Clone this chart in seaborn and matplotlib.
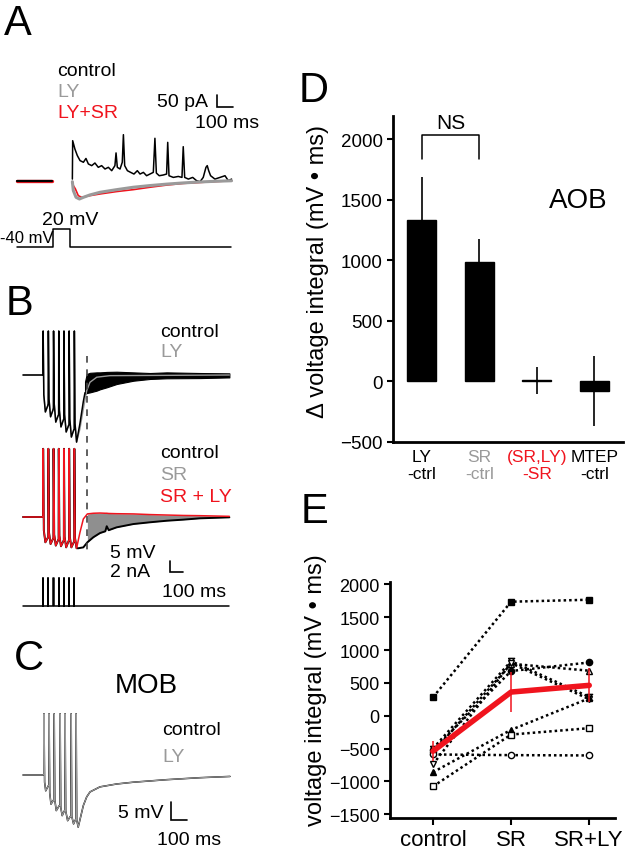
import matplotlib
matplotlib.use("Agg")
import seaborn as sns
import matplotlib.pyplot as plt
import pandas as pd

W, H = 629, 853
RED = "#f0141e"
GREY = "#9a9a9a"

# ---------------- panel A: voltage-clamp currents (ms, pA) ----------------
a_pre_t = [0, 220]
a_pre = [0, 0]
a_ctrl_t = [346, 348, 362, 377, 394, 415, 431, 446, 467, 487,
            508, 529, 550, 571, 592, 612, 619, 627, 644, 658,
            665, 673, 690, 710, 731, 752, 769, 790, 810, 831,
            852, 862, 871, 889, 914, 935, 942, 950, 977, 1008,
            1031, 1039, 1048, 1071, 1098, 1123, 1144, 1164, 1181, 1189,
            1198, 1210, 1237, 1269, 1300, 1321, 1341]
a_ctrl = [8, 168, 133, 106, 85, 78, 94, 71, 64, 75,
          57, 64, 50, 57, 43, 64, 117, 57, 50, 78,
          193, 64, 43, 36, 29, 43, 29, 36, 22, 29,
          36, 178, 33, 22, 25, 29, 161, 22, 15, 19,
          15, 143, 15, 8, 15, 1, -3, 15, 57, 64,
          43, 22, 8, 15, 22, 1, 8]
a_ly_t = [346, 352, 369, 390, 415, 456, 519, 623, 727, 831, 935, 1039, 1144, 1248, 1341]
a_ly = [-3, -40, -68, -75, -68, -58, -47, -36, -26, -19, -13, -8, -4, -1, 1]
a_lysr_t = [346, 352, 365, 383, 404, 456, 519, 623, 727, 831, 935, 1039, 1144, 1248, 1341]
a_lysr = [-3, -19, -33, -61, -68, -61, -54, -44, -36, -26, -17, -10, -6, -2, 1]
a_cmd_t = [0, 225, 225, 330, 330, 1340]
a_cmd = [-40, -40, 20, 20, -40, -40]

# ---------------- panel B: current-clamp voltage (ms, mV) ----------------
b1_spikes_t = [0, 154, 155, 160, 172, 190, 194, 195, 200, 212, 230, 234, 235, 240, 252, 270,
               274, 275, 280, 292, 310, 314, 315, 320, 332, 350, 354, 355, 360, 372, 390,
               394, 395, 400, 412]
b1_spikes = [0, 0, 20, -9, -16.8, -14, -13, 20, -11, -19, -16, -15, 20, -13, -21.4, -18.5,
             -18, 20, -16, -23.6, -20.5, -20, 20, -18, -25.9, -23, -22.5, 20, -20, -28.2, -25,
             -24.5, 20, -22, -30.5]
b1_ly_tail_t = [438, 464, 490, 515, 567, 669, 1587]
b1_ly_tail = [-24.5, -15.5, -7.1, -3.3, -1.0, -0.3, 0]
b1_ctrl_tail_t = [438, 464, 477]
b1_ctrl_tail = [-22, -12, -8]
b1_band_t = [477, 490, 515, 567, 592, 644, 720, 849, 977, 1105, 1362, 1587]
b1_band_hi = [-3, 0.45, 1.0, 1.2, 1.2, 1.4, 1.5, 1.2, 0.9, 1.2, 0.9, 0.75]
b1_band_lo = [-8.6, -8.2, -7.9, -7.1, -6.5, -5.6, -4.1, -2.6, -1.8, -1.5, -1.4, -1.1]

b2_spikes_t = [0, 154, 155, 160, 172, 190, 194, 195, 200, 212, 230, 234, 235, 240, 252, 270,
               274, 275, 280, 292, 310, 314, 315, 320, 332, 350, 354, 355, 360, 372, 390,
               394, 395, 400, 412]
b2_spikes = [0, 0, 31, -6, -11.5, -9.5, -9, 31, -7, -12.3, -10, -9.5, 31, -8, -13, -10.5,
             -10, 31, -8.5, -13.3, -11, -10.5, 31, -9, -13.8, -11, -10.5, 31, -9, -13.8, -11.5,
             -11, 31, -9.5, -14.2]
b2_ctrl_lead_t = [412, 426, 464]
b2_ctrl_lead = [-14.2, -14.2, -13.8]
b2_srly_lead_t = [412, 438, 464]
b2_srly_lead = [-14.2, -7, -0.9]
b2_tail_t = [495, 541, 592, 633, 644, 659, 720, 849, 977, 1105, 1233, 1362, 1587]
b2_ctrl_tail = [-11.5, -9.2, -7.3, -6.5, -4.2, -6.0, -4.7, -3.2, -2.4, -1.7, -1.2, -0.6, -0.15]
b2_srly_tail = [1.4, 1.7, 1.8, 1.7, 1.7, 1.6, 1.5, 1.4, 1.1, 0.9, 0.7, 0.6, 0.3]

b_pulse_t = [154, 194, 234, 274, 314, 354, 394]
b_pulse_amp = 5  # nA
b_pulse_end = 1587

# ---------------- panel C: MOB voltage (ms, mV) ----------------
c_t = [0, 130, 131, 135, 142, 158, 162, 163, 167, 175, 190, 194, 195, 199, 208, 227, 231, 232,
       236, 245, 258, 262, 263, 267, 279, 296, 300, 301, 305, 316, 327, 331, 332, 336, 345,
       377, 398, 419, 481, 585, 690, 898, 1106, 1294]
c_v = [0, 0, 17, -2, -4.4, -3, -3, 17, -5, -8.1, -7, -7, 17, -7, -9.9, -8.5, -8.5, 17,
       -9, -11.3, -10, -10, 17, -10, -12.7, -11.5, -11.5, 17, -11.5, -13.6, -12.5, -12.5, 17, -12.5, -14.5,
       -8.5, -6.1, -4.7, -3.3, -2.5, -2.0, -1.3, -0.75, -0.4]

# ---------------- panel D: bar chart ----------------
d_labels = ["LY\n-ctrl", "SR\n-ctrl", "(SR,LY)\n-SR", "MTEP\n-ctrl"]
d_label_colors = ["black", GREY, RED, "black"]
d_mean = [1330, 983, 10, -80]
d_err = [356, 191, 112, 290]

# ---------------- panel E: paired cells ----------------
e_conditions = ["control", "SR", "SR+LY"]
e_ctrl = [280, -520, -560, -500, -740, -860, -1077, -590]
e_sr = [1735, 680, 790, 830, 800, -215, -287, -600]
e_srly = [1765, 810, 685, 285, 250, 265, -190, -605]
e_markers = ["s", "o", "^", "hourglass", "v", "^", "s", "o"]
e_filled = [True, True, False, False, False, True, False, False]
e_mean = [-540, 360, 462]
e_sem = [150, 308, 260]

sns.set_style("ticks")
plt.rcParams["font.family"] = ["Liberation Sans", "DejaVu Sans"]
plt.rcParams.update({"text.color": "black", "axes.labelcolor": "black",
                     "xtick.color": "black", "ytick.color": "black",
                     "axes.edgecolor": "black"})
fig = plt.figure(figsize=(W / 100, H / 100), dpi=100)


def px_axes(x0, y0, x1, y1):
    return fig.add_axes([x0 / W, 1 - y1 / H, (x1 - x0) / W, (y1 - y0) / H])


def trace_axes(x0, y0, x1, y1, ox, oy, sx, sy):
    # ox, oy: pixel where data (0, 0) sits; sx, sy: data units per pixel
    ax = px_axes(x0, y0, x1, y1)
    ax.set_xlim((x0 - ox) * sx, (x1 - ox) * sx)
    ax.set_ylim((oy - y1) * sy, (oy - y0) * sy)
    ax.axis("off")
    ax.patch.set_alpha(0)
    return ax


def ftext(x, y, s, **kw):
    kw.setdefault("va", "baseline")
    fig.text(x / W, 1 - y / H, s, **kw)


def scalebar(ax, x, y, dx, dy):
    ax.plot([x, x, x + dx], [y + dy, y, y], color="black", lw=1.2, solid_joinstyle="miter")


LAB = 30
TXT = 14

# ---- A ----
axA = trace_axes(0, 85, 260, 215, 17, 182, 6.25, 4.167)
axA.plot(a_pre_t, a_pre, color=RED, lw=2.4)
axA.plot(a_pre_t, a_pre, color="black", lw=1.6)
axA.plot(a_ctrl_t, a_ctrl, color="black", lw=1.1)
axA.plot(a_lysr_t, a_lysr, color=RED, lw=1.2)
axA.plot(a_ly_t, a_ly, color=GREY, lw=2.2)
scalebar(axA, 1250, 308, 100, 50)
axAc = trace_axes(0, 222, 260, 255, 17, 236, 6.25, 3.333)
axAc.plot(a_cmd_t, a_cmd, color="black", lw=1.1)

ftext(4, 35, "A", fontsize=LAB)
ftext(57, 76, "control", fontsize=TXT)
ftext(57, 97, "LY", fontsize=TXT, color=GREY)
ftext(57, 118, "LY+SR", fontsize=TXT, color=RED)
ftext(157, 107, "50 pA", fontsize=TXT)
ftext(195, 128, "100 ms", fontsize=TXT)
ftext(42, 225, "20 mV", fontsize=TXT)
ftext(0, 243, "-40 mV", fontsize=12)

# ---- B ----
axB1 = trace_axes(0, 320, 260, 450, 23, 376, 7.69, 0.4545)
axB1.plot(b1_spikes_t + b1_ly_tail_t, b1_spikes + b1_ly_tail, color=GREY, lw=1.0)
axB1.plot(b1_spikes_t + b1_ctrl_tail_t, b1_spikes + b1_ctrl_tail, color="black", lw=1.1)
axB1.fill_between(b1_band_t, b1_band_lo, b1_band_hi, color="black", lw=0.8)

axB2 = trace_axes(0, 440, 260, 580, 23, 518, 7.69, 0.4545)
axB2.fill_between(b2_tail_t, b2_ctrl_tail, b2_srly_tail, color="#8f8f8f", lw=0)
axB2.plot(b2_spikes_t + b2_ctrl_lead_t + b2_tail_t,
          b2_spikes + b2_ctrl_lead + b2_ctrl_tail, color="black", lw=1.4)
axB2.plot(b2_spikes_t + b2_srly_lead_t + b2_tail_t,
          b2_spikes + b2_srly_lead + b2_srly_tail, color=RED, lw=1.1)
scalebar(axB2, 1130, -25, 100, 5)

axB3 = trace_axes(0, 575, 260, 612, 23, 607, 7.69, 0.1818)
stim_t, stim_v = [0], [0]
for t in b_pulse_t:
    stim_t += [t, t, t + 2, t + 2]
    stim_v += [0, b_pulse_amp, b_pulse_amp, 0]
stim_t.append(b_pulse_end)
stim_v.append(0)
axB3.plot(stim_t, stim_v, color="black", lw=1.1)

fig.add_artist(plt.Line2D([87.5 / W, 87.5 / W], [1 - 357 / H, 1 - 557 / H],
                          transform=fig.transFigure, color="#444444", lw=1.2,
                          ls=(0, (4, 4))))

ftext(6, 315, "B", fontsize=LAB)
ftext(160, 337, "control", fontsize=TXT)
ftext(160, 357, "LY", fontsize=TXT, color=GREY)
ftext(160, 458, "control", fontsize=TXT)
ftext(160, 480, "SR", fontsize=TXT, color=GREY)
ftext(160, 502, "SR + LY", fontsize=TXT, color=RED)
ftext(110, 558, "5 mV", fontsize=TXT)
ftext(110, 577, "2 nA", fontsize=TXT)
ftext(162, 597, "100 ms", fontsize=TXT)

# ---- C ----
axC = trace_axes(0, 700, 260, 835, 23, 776, 6.25, 0.278)
axC.plot(c_t, c_v, color="black", lw=1.1)
axC.plot(c_t, c_v, color=GREY, lw=0.8)
scalebar(axC, 925, -12.5, 100, 5)

ftext(14, 670, "C", fontsize=LAB)
ftext(115, 693, "MOB", fontsize=20)
ftext(162, 735, "control", fontsize=TXT)
ftext(162, 762, "LY", fontsize=TXT, color=GREY)
ftext(118, 818, "5 mV", fontsize=TXT)
ftext(157, 845, "100 ms", fontsize=TXT)

# ---- D ----
axD = px_axes(393, 117, 623, 443)
dfD = pd.DataFrame({"group": d_labels, "value": d_mean})
sns.barplot(data=dfD, x="group", y="value", color="black", saturation=1,
            width=0.5, errorbar=None, edgecolor="black", linewidth=1, ax=axD)
axD.errorbar(range(len(d_mean)), d_mean, yerr=d_err, fmt="none",
             ecolor="black", elinewidth=1.2)
axD.plot([0, 0, 1, 1], [1835, 2033, 2033, 1835], color="black", lw=1.1)
axD.text(0.5, 2060, "NS", ha="center", va="bottom", fontsize=15)
axD.text(2.72, 1500, "AOB", ha="center", va="center", fontsize=20)
axD.set_xlim(-0.5, 3.5)
axD.set_ylim(-500, 2190)
axD.set_yticks([-500, 0, 500, 1000, 1500, 2000])
axD.set_xlabel("")
axD.set_ylabel("")
axD.tick_params(axis="y", length=4.5, width=1.5, labelsize=13.5, pad=3)
axD.tick_params(axis="x", length=0, labelsize=12.5, pad=5)
for lbl, c in zip(axD.get_xticklabels(), d_label_colors):
    lbl.set_color(c)
sns.despine(ax=axD)
for s in ("left", "bottom"):
    axD.spines[s].set_linewidth(2)
ftext(318, 271, "\u0394 voltage integral (mV \u2022 ms)", rotation=90,
      ha="center", va="center", fontsize=17)
ftext(299, 102, "D", fontsize=LAB)

# ---- E ----
axE = px_axes(390, 583, 615, 819)
hourglass = [(-1, 1), (1, 1), (-1, -1), (1, -1), (-1, 1)]
for i in range(len(e_ctrl)):
    mk = hourglass if e_markers[i] == "hourglass" else e_markers[i]
    axE.plot(range(3), [e_ctrl[i], e_sr[i], e_srly[i]], color="black", lw=1.8,
             ls=(0, (1, 1.2)), marker=mk, ms=4.5, mew=1,
             mfc="black" if e_filled[i] else "white", mec="black")
axE.errorbar(range(3), e_mean, yerr=e_sem, color=RED, lw=4, elinewidth=1.1,
             capsize=0, zorder=5)
axE.set_xlim(-0.55, 2.33)
axE.set_ylim(-1557, 2035)
axE.set_xticks(range(3))
axE.set_xticklabels(e_conditions)
axE.set_yticks([-1500, -1000, -500, 0, 500, 1000, 1500, 2000])
axE.tick_params(axis="y", length=4.5, width=1.5, labelsize=13, pad=3)
axE.tick_params(axis="x", length=5, width=1.5, labelsize=16, pad=3)
sns.despine(ax=axE)
for s in ("left", "bottom"):
    axE.spines[s].set_linewidth(2)
ftext(316, 690, "voltage integral (mV \u2022 ms)", rotation=90,
      ha="center", va="center", fontsize=17)
ftext(301, 523, "E", fontsize=LAB)

fig.savefig("out.png", dpi=100)
